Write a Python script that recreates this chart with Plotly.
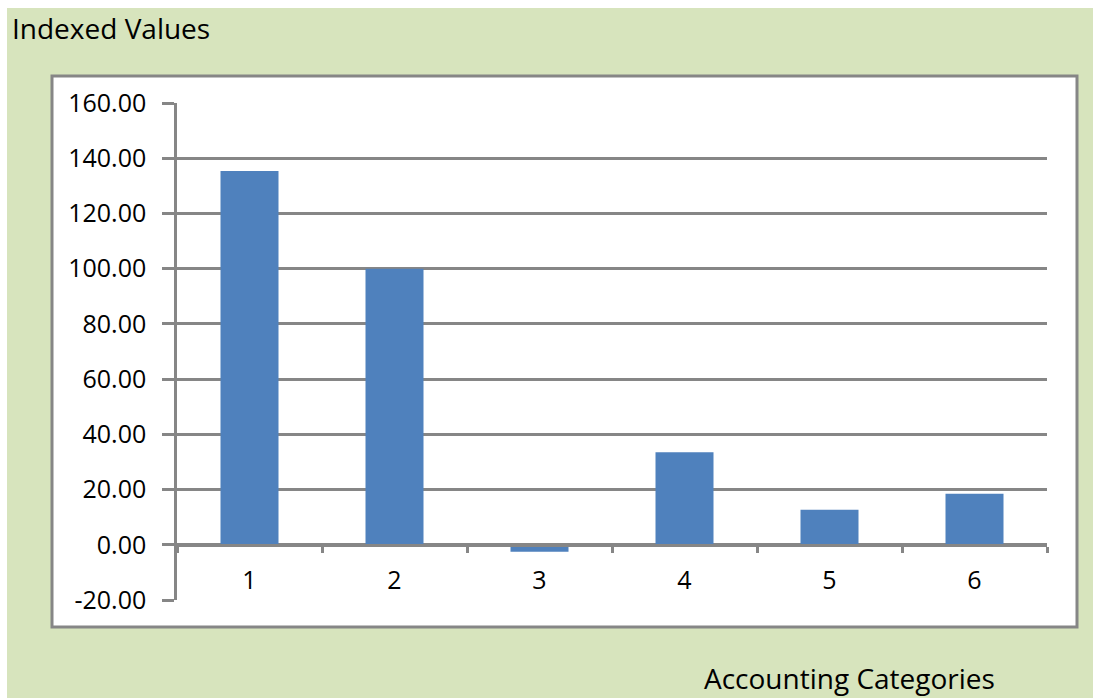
import plotly.graph_objects as go

# Accounting categories and their indexed values
categories = [1, 2, 3, 4, 5, 6]
indexed_values = [135.4, 100.0, -2.5, 33.5, 12.7, 18.5]
y_ticks = [-20, 0, 20, 40, 60, 80, 100, 120, 140, 160]
y_tick_labels = [f"{v:.2f}" for v in y_ticks]

W, H = 1093, 698
# plot-area pixel box
L, R, T, B = 177, 1047, 103, 600
pw, ph = R - L, B - T


def px_x(x):
    return (x - L) / pw


def px_y(y):
    return (B - y) / ph


GREEN = "#D7E4BD"
GRID = "#868686"
BAR = "#4F81BD"
FONT = "Open Sans"

fig = go.Figure()
fig.add_trace(go.Bar(
    x=categories,
    y=indexed_values,
    width=0.4,
    marker=dict(color=BAR, line=dict(width=0)),
    hoverinfo="x+y",
))

zero_pos = (0 - y_ticks[0]) / (y_ticks[-1] - y_ticks[0])

fig.update_layout(
    width=W, height=H,
    margin=dict(l=L, r=W - R, t=T, b=H - B),
    paper_bgcolor=GREEN,
    plot_bgcolor="white",
    showlegend=False,
    bargap=0.6,
    font=dict(family=FONT, size=22, color="black"),
    xaxis=dict(
        range=[0.5, 6.5],
        tickmode="array",
        tickvals=categories,
        ticktext=[str(c) for c in categories],
        ticks="",
        showgrid=False,
        zeroline=False,
        showline=True,
        linecolor=GRID,
        linewidth=2.5,
        anchor="free",
        position=zero_pos,
        ticklabelstandoff=12,
        tickfont=dict(family=FONT, size=25),
        minor=dict(
            tickmode="array",
            tickvals=[c + 0.5 for c in [0] + categories],
            ticks="outside",
            ticklen=6,
            tickwidth=2.5,
            tickcolor=GRID,
            showgrid=False,
        ),
        fixedrange=True,
    ),
    yaxis=dict(
        range=[y_ticks[0], y_ticks[-1]],
        tickmode="array",
        tickvals=y_ticks,
        ticktext=y_tick_labels,
        ticks="outside",
        ticklen=12,
        tickwidth=2.5,
        tickcolor=GRID,
        showgrid=True,
        gridcolor=GRID,
        gridwidth=2.5,
        zeroline=False,
        showline=True,
        linecolor=GRID,
        linewidth=2.5,
        ticklabelstandoff=11,
        tickfont=dict(family=FONT, size=25),
        fixedrange=True,
    ),
    shapes=[
        # white strips framing the green panel
        dict(type="rect", xref="paper", yref="paper", layer="below",
             x0=px_x(0), x1=px_x(W), y0=px_y(0), y1=px_y(8),
             fillcolor="white", line=dict(width=0)),
        dict(type="rect", xref="paper", yref="paper", layer="below",
             x0=px_x(0), x1=px_x(7), y0=px_y(0), y1=px_y(H),
             fillcolor="white", line=dict(width=0)),
        # chart frame
        dict(type="rect", xref="paper", yref="paper", layer="below",
             x0=px_x(52), x1=px_x(1077), y0=px_y(627), y1=px_y(76),
             fillcolor="white", line=dict(color=GRID, width=3)),
    ],
    annotations=[
        dict(text="Indexed Values", xref="paper", yref="paper",
             x=px_x(10), y=px_y(28), xanchor="left", yanchor="middle",
             showarrow=False, font=dict(family=FONT, size=28)),
        dict(text="Accounting Categories", xref="paper", yref="paper",
             x=px_x(997), y=px_y(678), xanchor="right", yanchor="middle",
             showarrow=False, font=dict(family=FONT, size=28)),
    ],
)

fig.write_html("out.html")
